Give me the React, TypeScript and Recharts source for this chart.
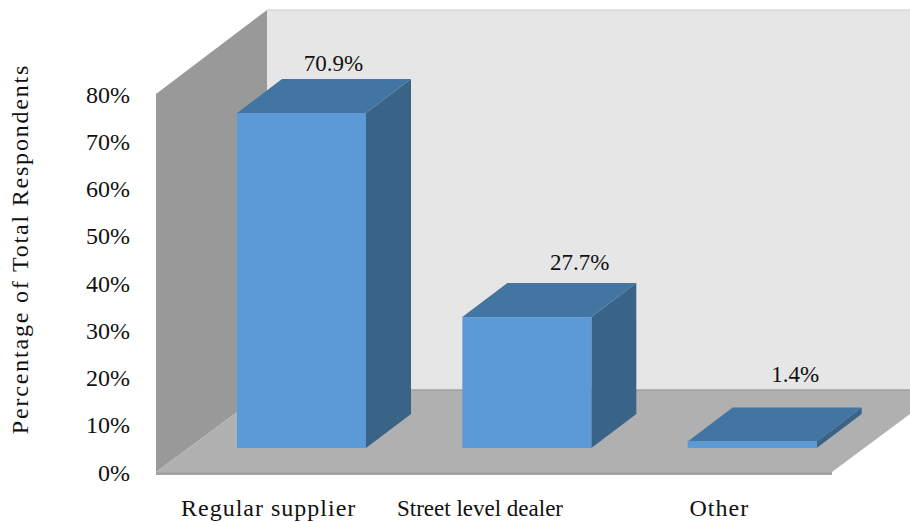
import React from "react";
import { BarChart, Bar, XAxis, YAxis, LabelList } from "recharts";

const categories = ["Regular supplier", "Street level dealer", "Other"];
const values = [70.9, 27.7, 1.4];
const yTicks = [0, 10, 20, 30, 40, 50, 60, 70, 80];
const yAxisTitle = "Percentage of Total Respondents";
const data = categories.map((name, i) => ({ name, value: values[i] }));

const W = 910, H = 522;
const FONT = "'Liberation Serif', serif";
const M = { left: 0, top: 94, right: 78, bottom: 20 };
const plotLeft = 156;
const x0 = plotLeft, x1 = W - M.right, y0 = 472, yT = M.top;
const DX = 33, BASE = 24, DEPTH_X = 45, DEPTH_Y = 34;
const labelDx = [32, 53, 43];
const labelDy = [-8, -13, -25];
const tickDx = [0, -14, 0];
const tickSize = [24, 23, 24];
const tickSpacing = [1, 0, 1];

const pts = (a: number[][]) => a.map((p) => p.join(",")).join(" ");

function Box3D(props: any) {
  const { x, y, width, height } = props;
  const l = x + DX, r = l + width, t = y - BASE, b = t + height;
  return (
    <g>
      <polygon points={pts([[r, t], [r + DEPTH_X, t - DEPTH_Y], [r + DEPTH_X, b - DEPTH_Y], [r, b]])} fill="#3a6388" />
      <polygon points={pts([[l, t], [l + DEPTH_X, t - DEPTH_Y], [r + DEPTH_X, t - DEPTH_Y], [r, t]])} fill="#4375a3" />
      <rect x={l} y={t} width={width} height={height} fill="#5b9ad6" />
    </g>
  );
}

function BarLabel(props: any) {
  const { x, y, width, index, value } = props;
  return (
    <text x={x + width / 2 + DX + labelDx[index]} y={y - BASE - DEPTH_Y + labelDy[index]} textAnchor="middle"
      fontFamily={FONT} fontSize={23} fill="#111">
      {`${value}%`}
    </text>
  );
}

function XTick(props: any) {
  const { x, y, payload, index } = props;
  return (
    <text x={x + tickDx[index]} y={y + 36} textAnchor="middle" fontFamily={FONT} fontSize={tickSize[index]}
      letterSpacing={tickSpacing[index]} fill="#111">
      {payload.value}
    </text>
  );
}

export default function App() {
  return (
    <div style={{ position: "absolute", left: 0, top: 0, width: W, height: H, background: "#fff" }}>
      <BarChart width={W} height={H} data={data} margin={M} barCategoryGap={0}>
        <polygon points={pts([[267, 10], [910, 10], [910, 390], [267, 390]])} fill="#e6e6e6" />
        <line x1={267} y1={10} x2={910} y2={10} stroke="#dadada" strokeWidth={1.5} />
        <polygon points={pts([[x0, yT], [267, 10], [267, 390], [x0, y0]])} fill="#999999" />
        <polygon points={pts([[x0, y0], [267, 390], [910, 390], [910, 414], [x1, y0]])} fill="#b0b0b0" />
        <line x1={267} y1={390} x2={910} y2={390} stroke="#a0a0a0" strokeWidth={1.5} />
        <rect x={x0} y={y0} width={x1 - x0} height={3} fill="#a4a4a4" />
        <text transform={`translate(28,249) rotate(-90)`} textAnchor="middle" fontFamily={FONT} fontSize={24} letterSpacing={1.8} fill="#111">
          {yAxisTitle}
        </text>
        <XAxis dataKey="name" axisLine={false} tickLine={false} interval={0} tick={<XTick />} />
        <YAxis domain={[0, 80]} ticks={yTicks} width={plotLeft} axisLine={false} tickLine={false} tickMargin={20}
          tickFormatter={(v: number) => `${v}%`} tick={{ fontFamily: FONT, fontSize: 24, fill: "#111" }} />
        <Bar dataKey="value" barSize={129} shape={<Box3D />} isAnimationActive={false}>
          <LabelList dataKey="value" content={<BarLabel />} />
        </Bar>
      </BarChart>
    </div>
  );
}
